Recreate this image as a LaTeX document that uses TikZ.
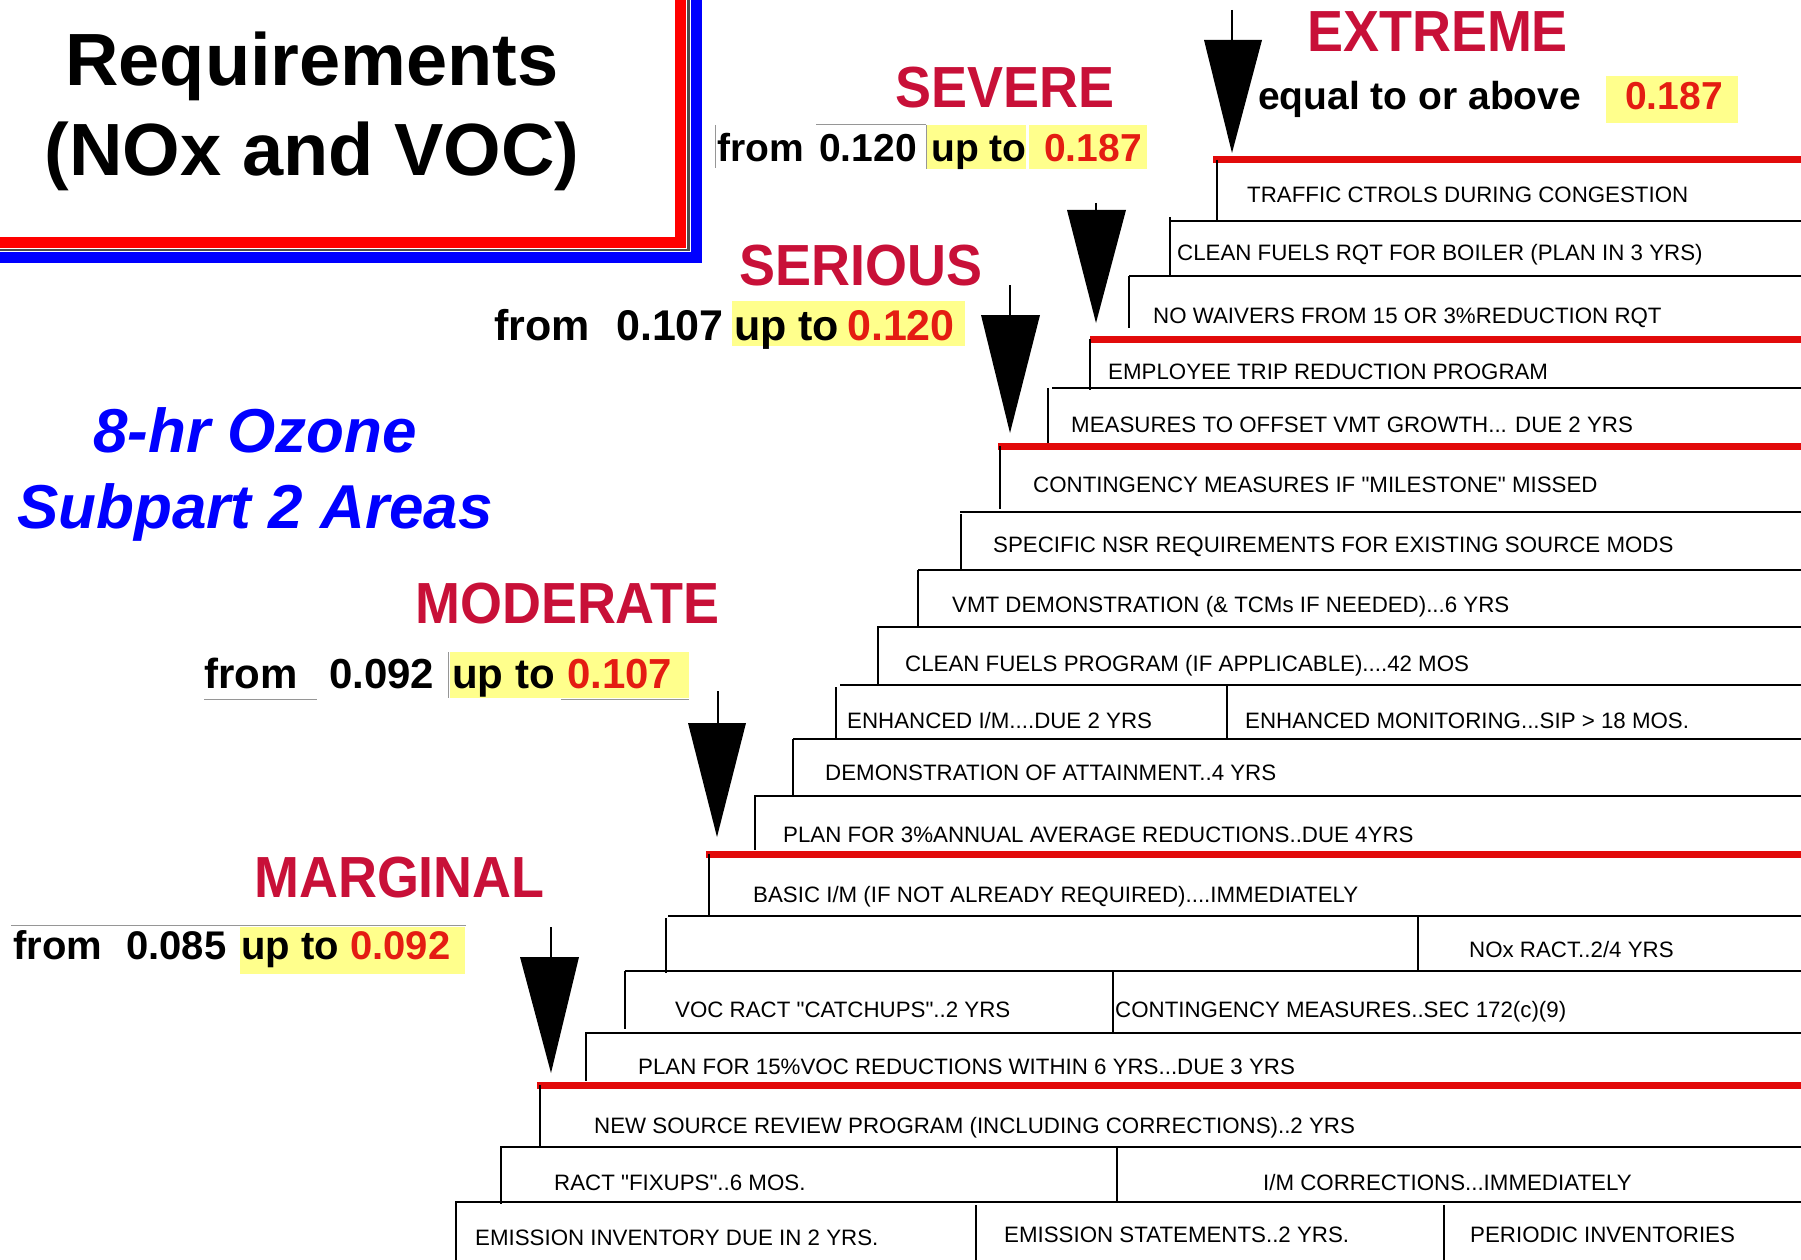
\documentclass[tikz,border=0pt]{standalone}
\usepackage{fontspec}
\setmainfont{Liberation Sans}
\newfontfamily\catfont[FakeStretch=0.93]{Liberation Sans}
\newfontfamily\plainfont{Liberation Sans}
\definecolor{catred}{RGB}{200,16,56}
\definecolor{numred}{RGB}{228,28,18}
\definecolor{hiyel}{RGB}{255,255,140}
\definecolor{redline}{RGB}{226,10,10}
\definecolor{edgegray}{RGB}{150,150,150}
\begin{document}
\begin{tikzpicture}[x=1pt,y=-1pt,
  steptext/.style={anchor=base west, inner sep=0pt, font=\plainfont\fontsize{22.3}{24}\selectfont},
  cattext/.style={anchor=base west, inner sep=0pt, text=catred, font=\catfont\bfseries\fontsize{58}{60}\selectfont},
  rngtext/.style={anchor=base west, inner sep=0pt, font=\bfseries\fontsize{#1}{#1}\selectfont},
  numtext/.style={rngtext=#1, text=numred},
  stepline/.style={line width=2.6pt, black},
  redstep/.style={line width=7pt, redline},
  edge/.style={line width=2.2pt, black},
  thin/.style={line width=1pt, edgegray},
  tip/.style={fill=black},
  stem/.style={line width=2pt, black}]
\useasboundingbox (0,0) rectangle (1801,1260);
\fill[white] (0,0) rectangle (1801,1260);

% ---------- title box ----------
\fill[blue] (0,252) rectangle (702,263);
\fill[blue] (691,0) rectangle (702,263);
\fill[black!70] (0,249) rectangle (690,251);
\fill[black!70] (687,0) rectangle (690,251);
\fill[red] (0,237) rectangle (686,248);
\fill[red] (675,0) rectangle (686,248);
\node[anchor=base, inner sep=0pt, font=\bfseries\fontsize{74}{74}\selectfont] (t1) at (312,86) {Requirements};
\node[anchor=base, inner sep=0pt, font=\bfseries\fontsize{74}{74}\selectfont] (t2) at (312,176) {(NOx and VOC)};

% ---------- subtitle ----------
\node[anchor=base, inner sep=0pt, text=blue, font=\bfseries\itshape\fontsize{62}{62}\selectfont] (s1) at (255,452) {8-hr Ozone};
\node[anchor=base, inner sep=0pt, text=blue, font=\bfseries\itshape\fontsize{62}{62}\selectfont] (s2) at (255,528) {Subpart 2 Areas};

% ---------- category labels ----------
\node[cattext] (cExt) at (1307,52) {EXTREME};
\node[cattext] (cSev) at (895,108) {SEVERE};
\node[cattext] (cSer) at (739,285) {SERIOUS};
\node[cattext] (cMod) at (415,623) {MODERATE};
\node[cattext] (cMar) at (254,897) {MARGINAL};

% ---------- ranges ----------
% extreme
\fill[hiyel] (1606,76) rectangle (1738,123);
\node[rngtext=39] (eA) at (1258,110) {equal to or above};
\node[numtext=39] (eB) at (1625,110) {0.187};
% severe
\fill[hiyel] (927,125) rectangle (1026,169);
\fill[hiyel] (1029,125) rectangle (1147,169);
\draw[thin] (715,125) -- (715,168);
\draw[thin] (926,125) -- (926,169);
\draw[thin] (816,125) -- (926,125);
\node[rngtext=39] (vA) at (717,162) {from};
\node[rngtext=39] (vB) at (819,162) {0.120};
\node[rngtext=39] (vC) at (931,162) {up to};
\node[numtext=39] (vD) at (1044,162) {0.187};
% serious
\fill[hiyel] (732,301) rectangle (965,346);
\node[rngtext=43] (sA) at (494,340) {from};
\node[rngtext=43] (sB) at (616,340) {0.107};
\node[rngtext=43] (sC) at (734,340) {up to};
\node[numtext=43] (sD) at (847,340) {0.120};
% moderate
\fill[hiyel] (450,652) rectangle (689,698);
\draw[thin] (448,652) -- (448,698);
\draw[thin] (204,699) -- (317,699);
\draw[thin] (561,699) -- (689,699);
\node[rngtext=42] (mA) at (204,688) {from};
\node[rngtext=42] (mB) at (329,688) {0.092};
\node[rngtext=42] (mC) at (452,688) {up to};
\node[numtext=42] (mD) at (567,688) {0.107};
% marginal
\fill[hiyel] (240,927) rectangle (465,974);
\draw[thin] (11,925) -- (466,925);
\node[rngtext=40] (gA) at (13,959) {from};
\node[rngtext=40] (gB) at (126,959) {0.085};
\node[rngtext=40] (gC) at (241,959) {up to};
\node[numtext=40] (gD) at (350,959) {0.092};

% ---------- staircase: horizontal lines ----------
\draw[redstep]  (1213,160) -- (1801,160);
\draw[stepline] (1170,221) -- (1801,221);
\draw[stepline] (1129,276) -- (1801,276);
\draw[redstep]  (1090,339) -- (1801,339);
\draw[stepline] (1052,388) -- (1801,388);
\draw[redstep]  (998,446) -- (1801,446);
\draw[stepline] (960,512) -- (1801,512);
\draw[stepline] (918,570) -- (1801,570);
\draw[stepline] (877,627) -- (1801,627);
\draw[stepline] (840,685) -- (1801,685);
\draw[stepline] (793,739) -- (1801,739);
\draw[stepline] (754,796) -- (1801,796);
\draw[redstep]  (706,854) -- (1801,854);
\draw[stepline] (668,916) -- (1801,916);
\draw[stepline] (625,971) -- (1801,971);
\draw[stepline] (585,1033) -- (1801,1033);
\draw[redstep]  (537,1085) -- (1801,1085);
\draw[stepline] (500,1147) -- (1801,1147);
\draw[stepline] (455,1202) -- (1801,1202);

% ---------- staircase: left edges ----------
\draw[edge] (1217,160) -- (1217,221);
\draw[edge] (1170,217) -- (1170,276);
\draw[edge] (1129,276) -- (1129,328);
\draw[edge] (1090,339) -- (1090,390);
\draw[edge] (1048,388) -- (1048,443);
\draw[edge] (1000,446) -- (1000,509);
\draw[edge] (961,514) -- (961,569);
\draw[edge] (918,570) -- (918,627);
\draw[edge] (878,627) -- (878,684);
\draw[edge] (836,687) -- (836,738);
\draw[edge] (793,739) -- (793,796);
\draw[edge] (755,796) -- (755,850);
\draw[edge] (709,854) -- (709,915);
\draw[edge] (666,918) -- (666,973);
\draw[edge] (625,971) -- (625,1029);
\draw[edge] (586,1033) -- (586,1081);
\draw[edge] (540,1085) -- (540,1146);
\draw[edge] (501,1147) -- (501,1204);
\draw[edge] (456,1202) -- (456,1260);

% ---------- dividers ----------
\draw[edge] (1227,685) -- (1227,739);
\draw[edge] (1418,916) -- (1418,971);
\draw[edge] (1113,972) -- (1113,1032);
\draw[edge] (1117,1147) -- (1117,1202);
\draw[edge] (976,1205) -- (976,1260);
\draw[edge] (1444,1205) -- (1444,1260);
\fill[white] (1420,927) rectangle (1703,966);

% ---------- step texts ----------
\node[steptext] (r1) at (1247,203) {TRAFFIC CTROLS DURING CONGESTION};
\node[steptext] (r2) at (1177,260) {CLEAN FUELS RQT FOR BOILER (PLAN IN 3 YRS)};
\node[steptext] (r3) at (1153,323) {NO WAIVERS FROM 15 OR 3\%REDUCTION RQT};
\node[steptext] (r4) at (1108,379) {EMPLOYEE TRIP REDUCTION PROGRAM};
\node[steptext] (r5) at (1071,432) {MEASURES TO OFFSET VMT GROWTH... DUE 2 YRS};
\node[steptext] (r6) at (1033,492) {CONTINGENCY MEASURES IF "MILESTONE" MISSED};
\node[steptext] (r7) at (993,552) {SPECIFIC NSR REQUIREMENTS FOR EXISTING SOURCE MODS};
\node[steptext] (r8) at (952,612) {VMT DEMONSTRATION (\& TCMs IF NEEDED)...6 YRS};
\node[steptext] (r9) at (905,671) {CLEAN FUELS PROGRAM (IF APPLICABLE)....42 MOS};
\node[steptext] (r10a) at (847,728) {ENHANCED I/M....DUE 2 YRS};
\node[steptext] (r10b) at (1245,728) {ENHANCED MONITORING...SIP > 18 MOS.};
\node[steptext] (r11) at (825,780) {DEMONSTRATION OF ATTAINMENT..4 YRS};
\node[steptext] (r12) at (783,842) {PLAN FOR 3\%ANNUAL AVERAGE REDUCTIONS..DUE 4YRS};
\node[steptext] (r13) at (753,902) {BASIC I/M (IF NOT ALREADY REQUIRED)....IMMEDIATELY};
\node[steptext] (r14) at (1469,957) {NOx RACT..2/4 YRS};
\node[steptext] (r15a) at (675,1017) {VOC RACT "CATCHUPS"..2 YRS};
\node[steptext] (r15b) at (1115,1017) {CONTINGENCY MEASURES..SEC 172(c)(9)};
\node[steptext] (r16) at (638,1074) {PLAN FOR 15\%VOC REDUCTIONS WITHIN 6 YRS...DUE 3 YRS};
\node[steptext] (r17) at (594,1133) {NEW SOURCE REVIEW PROGRAM (INCLUDING CORRECTIONS)..2 YRS};
\node[steptext] (r18a) at (554,1190) {RACT "FIXUPS"..6 MOS.};
\node[steptext] (r18b) at (1263,1190) {I/M CORRECTIONS...IMMEDIATELY};
\node[steptext] (r19a) at (475,1245) {EMISSION INVENTORY DUE IN 2 YRS.};
\node[steptext] (r19b) at (1004,1242) {EMISSION STATEMENTS..2 YRS.};
\node[steptext] (r19c) at (1470,1242) {PERIODIC INVENTORIES};

% ---------- arrows ----------
\draw[stem] (1232,10) -- (1232,42);
\fill[tip] (1204,40) -- (1262,40) -- (1232,153) -- cycle;
\draw[stem] (1096,203) -- (1096,212);
\fill[tip] (1067,210) -- (1126,210) -- (1096,323) -- cycle;
\draw[stem] (1010,285) -- (1010,317);
\fill[tip] (981,315) -- (1040,315) -- (1010,433) -- cycle;
\draw[stem] (718,691) -- (718,725);
\fill[tip] (688,723) -- (746,723) -- (717,837) -- cycle;
\draw[stem] (551,927) -- (551,959);
\fill[tip] (520,957) -- (579,957) -- (551,1073) -- cycle;
\end{tikzpicture}
\end{document}
